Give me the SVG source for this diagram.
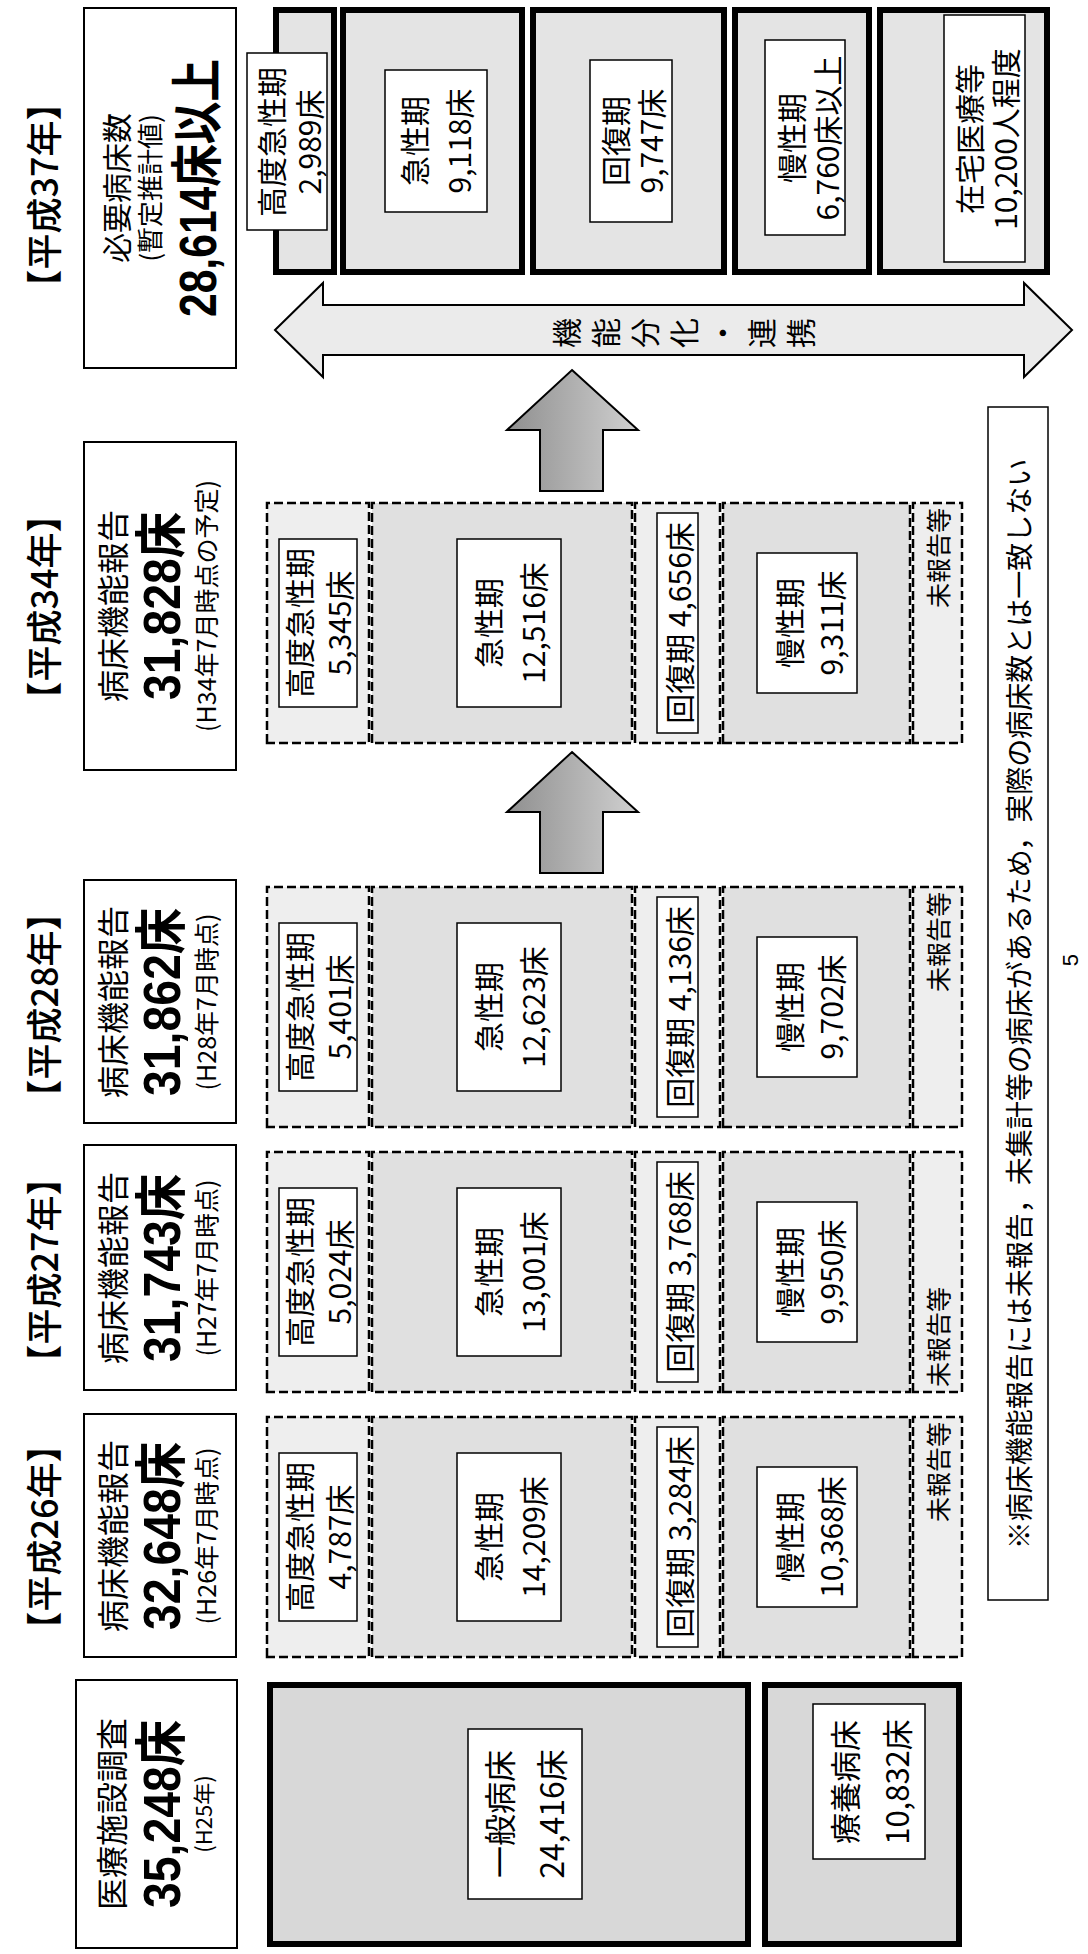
<svg xmlns="http://www.w3.org/2000/svg" width="1088" height="1954" viewBox="0 0 1088 1954">
<style>
text { font-family: 'Noto Sans CJK JP', sans-serif; fill: #000; text-anchor: middle; dominant-baseline: central; }
.yr { font-size: 36px; font-weight: 500; }
.h1 { font-size: 32px; }
.big { font-size: 52px; font-weight: bold; font-family: 'Liberation Sans', 'Noto Sans CJK JP', sans-serif; }
.sm { font-size: 25px; }
.lb { font-size: 30px; }
.nr { font-size: 25px; }
.hdr { fill: #fff; stroke: #000; stroke-width: 2; }
.dash { stroke: #000; stroke-width: 2.5; stroke-dasharray: 9 4; }
.lt { fill: #eeeeee; }
.dk { fill: #e0e0e0; }
.lab { fill: #fff; stroke: #000; stroke-width: 1.5; }
.thick { fill: #e4e4e4; stroke: #000; stroke-width: 6; }
.thick2 { fill: #d8d8d8; stroke: #000; stroke-width: 6; }
.arrow { fill: url(#ag); stroke: #000; stroke-width: 2; }
.darrow { fill: #ebebeb; stroke: #000; stroke-width: 2; }
</style>
<defs>
<linearGradient id="ag" x1="0" y1="0" x2="0" y2="1">
<stop offset="0" stop-color="#8f8f8f"/>
<stop offset="1" stop-color="#d0d0d0"/>
</linearGradient>
</defs>
<g transform="translate(0,1954) rotate(-90)">

<g id="year-labels">
<text class="yr" x="1759" y="42">【平成37年】</text>
<text class="yr" x="1347" y="42">【平成34年】</text>
<text class="yr" x="949" y="42">【平成28年】</text>
<text class="yr" x="684" y="42">【平成27年】</text>
<text class="yr" x="417" y="42">【平成26年】</text>
</g>

<g id="hdr-h37">
<rect class="hdr" x="1586" y="84" width="360" height="152"/>
<text x="1766" y="115" style="font-size:30px">必要病床数</text>
<text x="1766" y="148" style="font-size:26px">(暫定推計値)</text>
<text class="big" x="1766" y="198" textLength="258" lengthAdjust="spacingAndGlyphs">28,614床以上</text>
</g>
<g id="hdr-h34">
<rect class="hdr" x="1184" y="84" width="328" height="152"/>
<text class="h1" x="1348" y="111">病床機能報告</text>
<text class="big" x="1348" y="162" textLength="188" lengthAdjust="spacingAndGlyphs">31,828床</text>
<text class="sm" x="1348" y="205">(H34年7月時点の予定)</text>
</g>
<g id="hdr-h28">
<rect class="hdr" x="831" y="84" width="243" height="152"/>
<text class="h1" x="952" y="111">病床機能報告</text>
<text class="big" x="952" y="162" textLength="188" lengthAdjust="spacingAndGlyphs">31,862床</text>
<text class="sm" x="952" y="205">(H28年7月時点)</text>
</g>
<g id="hdr-h27">
<rect class="hdr" x="564" y="84" width="245" height="152"/>
<text class="h1" x="686" y="111">病床機能報告</text>
<text class="big" x="686" y="162" textLength="188" lengthAdjust="spacingAndGlyphs">31,743床</text>
<text class="sm" x="686" y="205">(H27年7月時点)</text>
</g>
<g id="hdr-h26">
<rect class="hdr" x="297" y="84" width="243" height="152"/>
<text class="h1" x="418" y="111">病床機能報告</text>
<text class="big" x="418" y="162" textLength="188" lengthAdjust="spacingAndGlyphs">32,648床</text>
<text class="sm" x="418" y="205">(H26年7月時点)</text>
</g>
<g id="hdr-h25">
<rect class="hdr" x="6" y="76" width="268" height="161"/>
<text class="h1" x="140" y="110">医療施設調査</text>
<text class="big" x="140" y="162" textLength="188" lengthAdjust="spacingAndGlyphs">35,248床</text>
<text x="140" y="202" style="font-size:22px">(H25年)</text>
</g>

<g id="connectors">
<polygon class="darrow" points="1624,275 1671,323 1649,323 1649,1024 1671,1024 1624,1072 1577,1024 1599,1024 1599,323 1577,323"/>
<polygon class="arrow" points="1584,572 1524,638 1524,603 1463,603 1463,540 1524,540 1524,507"/>
<polygon class="arrow" points="1202,572 1142,638 1142,603 1081,603 1081,540 1142,540 1142,507"/>
</g>
<g id="arrow-label">
<text class="lb" x="1621" y="565">機</text>
<text class="lb" x="1621" y="604">能</text>
<text class="lb" x="1621" y="643">分</text>
<text class="lb" x="1621" y="682">化</text>
<text class="lb" x="1621" y="721">・</text>
<text class="lb" x="1621" y="760">連</text>
<text class="lb" x="1621" y="799">携</text>
</g>

<g id="row-h37">
<g id="h37-koudo">
<rect class="thick" x="1682" y="276" width="262" height="58"/>
<rect class="lab" x="1724" y="247" width="177" height="80"/>
<text class="lb" x="1812" y="270">高度急性期</text>
<text class="lb" x="1812" y="308">2,989床</text>
</g>
<g id="h37-kyusei">
<rect class="thick" x="1682" y="343" width="262" height="179"/>
<rect class="lab" x="1742" y="385" width="142" height="102"/>
<text class="lb" x="1813" y="413">急性期</text>
<text class="lb" x="1813" y="458">9,118床</text>
</g>
<g id="h37-kaifuku">
<rect class="thick" x="1682" y="533" width="262" height="191"/>
<rect class="lab" x="1732" y="590" width="162" height="82"/>
<text class="lb" x="1813" y="614">回復期</text>
<text class="lb" x="1813" y="650">9,747床</text>
</g>
<g id="h37-mansei">
<rect class="thick" x="1682" y="735" width="262" height="134"/>
<rect class="lab" x="1719" y="765" width="195" height="80"/>
<text class="lb" x="1816" y="790">慢性期</text>
<text class="lb" x="1816" y="826">6,760床以上</text>
</g>
<g id="h37-zaitaku">
<rect class="thick" x="1682" y="880" width="262" height="167"/>
<rect class="lab" x="1692" y="944" width="247" height="81"/>
<text class="lb" x="1815" y="968">在宅医療等</text>
<text class="lb" x="1815" y="1004">10,200人程度</text>
</g>
</g>

<g id="row-h34">
<rect class="dash lt" x="1211" y="267" width="240" height="102"/>
<rect class="dash dk" x="1211" y="372" width="240" height="260"/>
<rect class="dash lt" x="1211" y="635" width="240" height="85"/>
<rect class="dash dk" x="1211" y="723" width="240" height="187"/>
<rect class="dash lt" x="1211" y="913" width="240" height="49"/>
<rect class="lab" x="1247" y="279" width="168" height="78"/>
<text class="lb" x="1331" y="298">高度急性期</text>
<text class="lb" x="1331" y="338">5,345床</text>
<rect class="lab" x="1247" y="457" width="168" height="104"/>
<text class="lb" x="1331" y="487">急性期</text>
<text class="lb" x="1331" y="532">12,516床</text>
<rect class="lab" x="1221" y="657" width="220" height="41"/>
<text class="lb" x="1331" y="678">回復期 4,656床</text>
<rect class="lab" x="1261" y="757" width="140" height="100"/>
<text class="lb" x="1331" y="788">慢性期</text>
<text class="lb" x="1331" y="830">9,311床</text>
<text class="nr" x="1396" y="937">未報告等</text>
</g>

<g id="row-h28">
<rect class="dash lt" x="827" y="267" width="240" height="102"/>
<rect class="dash dk" x="827" y="372" width="240" height="260"/>
<rect class="dash lt" x="827" y="635" width="240" height="85"/>
<rect class="dash dk" x="827" y="723" width="240" height="187"/>
<rect class="dash lt" x="827" y="913" width="240" height="49"/>
<rect class="lab" x="863" y="279" width="168" height="78"/>
<text class="lb" x="947" y="298">高度急性期</text>
<text class="lb" x="947" y="338">5,401床</text>
<rect class="lab" x="863" y="457" width="168" height="104"/>
<text class="lb" x="947" y="487">急性期</text>
<text class="lb" x="947" y="532">12,623床</text>
<rect class="lab" x="837" y="657" width="220" height="41"/>
<text class="lb" x="947" y="678">回復期 4,136床</text>
<rect class="lab" x="877" y="757" width="140" height="100"/>
<text class="lb" x="947" y="788">慢性期</text>
<text class="lb" x="947" y="830">9,702床</text>
<text class="nr" x="1012" y="937">未報告等</text>
</g>

<g id="row-h27">
<rect class="dash lt" x="562" y="267" width="240" height="102"/>
<rect class="dash dk" x="562" y="372" width="240" height="260"/>
<rect class="dash lt" x="562" y="635" width="240" height="85"/>
<rect class="dash dk" x="562" y="723" width="240" height="187"/>
<rect class="dash lt" x="562" y="913" width="240" height="49"/>
<rect class="lab" x="598" y="279" width="168" height="78"/>
<text class="lb" x="682" y="298">高度急性期</text>
<text class="lb" x="682" y="338">5,024床</text>
<rect class="lab" x="598" y="457" width="168" height="104"/>
<text class="lb" x="682" y="487">急性期</text>
<text class="lb" x="682" y="532">13,001床</text>
<rect class="lab" x="572" y="657" width="220" height="41"/>
<text class="lb" x="682" y="678">回復期 3,768床</text>
<rect class="lab" x="612" y="757" width="140" height="100"/>
<text class="lb" x="682" y="788">慢性期</text>
<text class="lb" x="682" y="830">9,950床</text>
<text class="nr" x="617" y="937">未報告等</text>
</g>

<g id="row-h26">
<rect class="dash lt" x="297" y="267" width="240" height="102"/>
<rect class="dash dk" x="297" y="372" width="240" height="260"/>
<rect class="dash lt" x="297" y="635" width="240" height="85"/>
<rect class="dash dk" x="297" y="723" width="240" height="187"/>
<rect class="dash lt" x="297" y="913" width="240" height="49"/>
<rect class="lab" x="333" y="279" width="168" height="78"/>
<text class="lb" x="417" y="298">高度急性期</text>
<text class="lb" x="417" y="338">4,787床</text>
<rect class="lab" x="333" y="457" width="168" height="104"/>
<text class="lb" x="417" y="487">急性期</text>
<text class="lb" x="417" y="532">14,209床</text>
<rect class="lab" x="307" y="657" width="220" height="41"/>
<text class="lb" x="417" y="678">回復期 3,284床</text>
<rect class="lab" x="347" y="757" width="140" height="100"/>
<text class="lb" x="417" y="788">慢性期</text>
<text class="lb" x="417" y="830">10,368床</text>
<text class="nr" x="482" y="937">未報告等</text>
</g>

<g id="row-h25">
<g id="h25-ippan">
<rect class="thick2" x="10" y="270" width="259" height="478"/>
<rect class="lab" x="55" y="468" width="170" height="114"/>
<text x="140" y="498" style="font-size:32px">一般病床</text>
<text x="140" y="550" style="font-size:32px">24,416床</text>
</g>
<g id="h25-ryouyou">
<rect class="thick2" x="10" y="765" width="259" height="194"/>
<rect class="lab" x="95" y="813" width="155" height="112"/>
<text x="172" y="843" style="font-size:31px">療養病床</text>
<text x="172" y="895" style="font-size:31px">10,832床</text>
</g>
</g>

<g id="footnote">
<rect fill="#fff" stroke="#000" stroke-width="1.5" x="354" y="988" width="1193" height="60"/>
<text x="950" y="1018" style="font-size:28px">※病床機能報告には未報告，未集計等の病床があるため，実際の病床数とは一致しない</text>
</g>
<text id="page-number" x="994" y="1070" style="font-size:22px; font-family:'Liberation Sans',sans-serif">5</text>
</g>
</svg>
